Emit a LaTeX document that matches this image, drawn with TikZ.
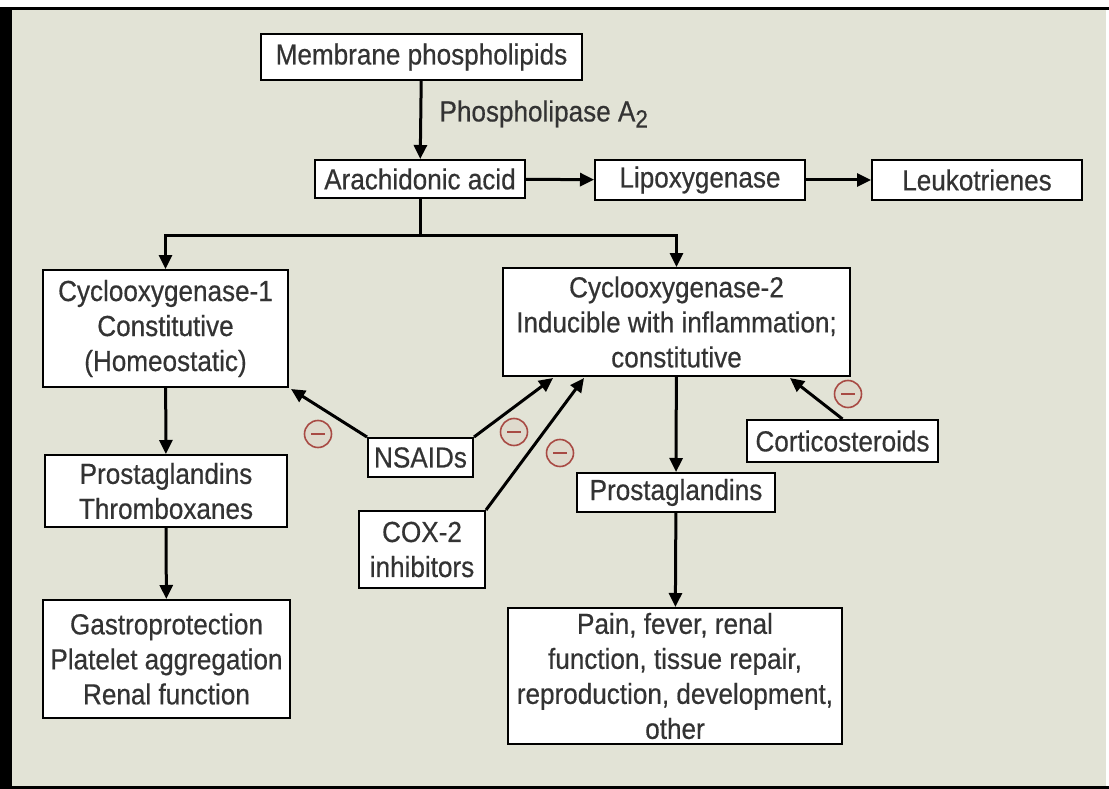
\documentclass[tikz,border=0pt]{standalone}
\usepackage{fontspec}
\setmainfont{Liberation Sans}[FakeStretch=0.9, FakeBold=0.5]
\usepackage{tikz}
\usetikzlibrary{calc,arrows.meta}
\definecolor{fondo}{HTML}{E2E3D6}
\definecolor{testo}{HTML}{333333}
\definecolor{rosso}{HTML}{A84A44}

\begin{document}
\begin{tikzpicture}[x=1pt, y=-1pt,
  box/.style={draw=black, fill=white, line width=2pt, align=center,
    inner sep=0pt, text=testo, font=\fontsize{29}{35}\selectfont},
  freccia/.style={draw=black, line width=3pt,
    -{Triangle[length=14pt,width=13pt]}},
  meno/.style={circle, draw=rosso, line width=1.6pt, minimum size=27pt,
    inner sep=0pt, fill=rosso!6!fondo,
    path picture={\draw[rosso, line width=2.6pt]
      ($(path picture bounding box.center)+(-7,0)$) --
      ($(path picture bounding box.center)+(7,0)$);}}]

  % Sfondo e cornice
  \useasboundingbox (0,0) rectangle (1109,789);
  \fill[white] (0,0) rectangle (1109,789);
  \fill[fondo] (0,8) rectangle (1106,787);
  \fill[black] (0,7) rectangle (1109,10);
  \fill[black] (0,786) rectangle (1109,789);
  \fill[black] (0,7) rectangle (12,789);

  % Riquadri
  \node[box, minimum width=321, minimum height=46] (mem) at (421.5,57) {Membrane phospholipids};
  \node[box, minimum width=210, minimum height=38] (arach) at (420,179) {Arachidonic acid};
  \node[box, minimum width=210, minimum height=40] (lipox) at (700,180) {Lipoxygenase};
  \node[box, minimum width=210, minimum height=40] (leuko) at (977,180) {Leukotrienes};
  \node[box, minimum width=245, minimum height=117] (cox1) at (165.5,328.5)
    {Cyclooxygenase-1\\Constitutive\\(Homeostatic)};
  \node[box, minimum width=347, minimum height=108] (cox2) at (676.5,322)
    {Cyclooxygenase-2\\Inducible with inflammation;\\constitutive};
  \node[box, minimum width=242, minimum height=72] (pgtx) at (166,491)
    {Prostaglandins\\Thromboxanes};
  \node[box, minimum width=247, minimum height=118] (gastro) at (166.5,659)
    {Gastroprotection\\Platelet aggregation\\Renal function};
  \node[box, minimum width=105, minimum height=39] (nsaid) at (420.5,457.5) {NSAIDs};
  \node[box, minimum width=126, minimum height=77] (coxinh) at (422,549.5)
    {COX-2\\inhibitors};
  \node[box, minimum width=191, minimum height=42] (cort) at (842.5,441) {Corticosteroids};
  \node[box, minimum width=198, minimum height=39] (pg) at (676,492.5) {Prostaglandins};
  \node[box, minimum width=334, minimum height=136] (pain) at (675,676)
    {Pain, fever, renal\\function, tissue repair,\\reproduction, development,\\other};

  % Etichetta enzima
  \node[anchor=west, text=testo, font=\fontsize{29}{35}\selectfont] (pla) at (436,114)
    {Phospholipase A\raisebox{-0.4ex}{\fontsize{25}{25}\selectfont 2}};

  % Frecce principali
  \coordinate (split) at (420,235);
  \draw[freccia] (mem) -- (arach);
  \draw[freccia] (arach) -- (lipox);
  \draw[freccia] (lipox) -- (leuko);
  \draw[line width=3pt] (arach) -- (split);
  \draw[freccia] (split) -| (cox1);
  \draw[freccia] (split) -| (cox2);
  \draw[freccia] (cox1) -- (pgtx);
  \draw[freccia] (pgtx) -- (gastro);
  \draw[freccia] (cox2) -- (pg);
  \draw[freccia] (pg) -- (pain);

  % Inibitori
  \coordinate (c2a) at ($(cox2.south west)+(51,1)$);
  \coordinate (c2b) at ($(cox2.south west)+(82,1)$);
  \coordinate (c2c) at ($(cox2.south west)+(288,1)$);
  \draw[freccia] (nsaid.north west) -- ($(cox1.south east)+(2,1)$);
  \draw[freccia] (nsaid.north east) -- (c2a);
  \draw[freccia] (coxinh.north east) -- (c2b);
  \draw[freccia] (cort.north) -- (c2c);

  % Segni meno
  \node[meno] (m1) at (318,434) {};
  \node[meno] (m2) at (514,432) {};
  \node[meno] (m3) at (560,453) {};
  \node[meno] (m4) at (848,394) {};
\end{tikzpicture}
\end{document}
